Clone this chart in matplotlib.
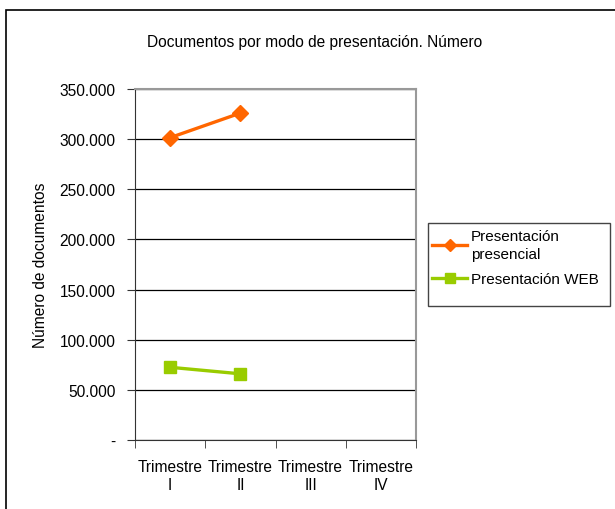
import numpy as np
import matplotlib.pyplot as plt
from matplotlib.patches import Rectangle
from matplotlib.ticker import FuncFormatter

plt.rcParams['font.family'] = ['Liberation Sans', 'DejaVu Sans']

categories = ['Trimestre\nI', 'Trimestre\nII', 'Trimestre\nIII', 'Trimestre\nIV']
presencial = [301500, 326000, np.nan, np.nan]
web = [72500, 66000, np.nan, np.nan]
series_names = ['Presentación\npresencial', 'Presentación WEB']

fs = 11.2

fig = plt.figure(figsize=(6.15, 5.10), dpi=100)

# outer chart border (top and left visible, rest runs off the image)
fig.patches.append(Rectangle((6 / 615, -0.1), 1.2, 1 - 11 / 510 + 0.1,
                             transform=fig.transFigure, fill=False,
                             edgecolor='black', linewidth=1.2))

ax = fig.add_axes([135 / 615, 1 - 441 / 510, (416 - 135) / 615, (441 - 90) / 510])

x = np.arange(len(categories))
ax.plot(x, presencial, color='#FF6600', linewidth=2.4, marker='D', markersize=8,
        label=series_names[0])
ax.plot(x, web, color='#99CC00', linewidth=2.4, marker='s', markersize=9,
        label=series_names[1])

ax.set_xlim(-0.5, 3.5)
ax.set_ylim(0, 350000)
ax.set_yticks(np.arange(0, 350001, 50000))
ax.yaxis.set_major_formatter(FuncFormatter(
    lambda v, p: '-' if v == 0 else f'{int(v):,}'.replace(',', '.')))
ax.grid(axis='y', color='black', linewidth=0.9)
ax.set_axisbelow(True)

# categories labels in the middle, tick marks at boundaries
ax.set_xticks(x)
ax.set_xticklabels(categories, fontsize=fs, linespacing=1.2)
ax.tick_params(axis='x', length=0, pad=14)
ax.set_xticks(np.arange(-0.5, 4, 1), minor=True)
ax.tick_params(axis='x', which='minor', length=6, direction='out', color='#333333')
ax.tick_params(axis='y', length=6, direction='out', labelsize=fs, pad=8, color='#333333')

for s in ['top', 'right']:
    ax.spines[s].set_color('#999999')
    ax.spines[s].set_linewidth(1.5)
ax.spines['left'].set_color('#333333')
ax.spines['bottom'].set_color('#333333')

ax.set_ylabel('Número de documentos', fontsize=fs, labelpad=8)
fig.text(315 / 615, 1 - 43 / 510, 'Documentos por modo de presentación. Número',
         ha='center', va='center', fontsize=fs)

# legend frame and entries
fig.patches.append(Rectangle((428 / 615, 1 - 307 / 510), 182 / 615, 83 / 510,
                             transform=fig.transFigure, fill=False,
                             edgecolor='#444444', linewidth=1))
leg = fig.legend(loc='upper left', bbox_to_anchor=(432 / 615, 1 - 230 / 510),
                 frameon=False, fontsize=11, handlelength=2.3, handletextpad=0.25,
                 borderaxespad=0, borderpad=0, labelspacing=0.7, markerscale=0.75)
for t in leg.get_texts():
    t.set_linespacing(1.4)

fig.savefig('out.png', dpi=100)
